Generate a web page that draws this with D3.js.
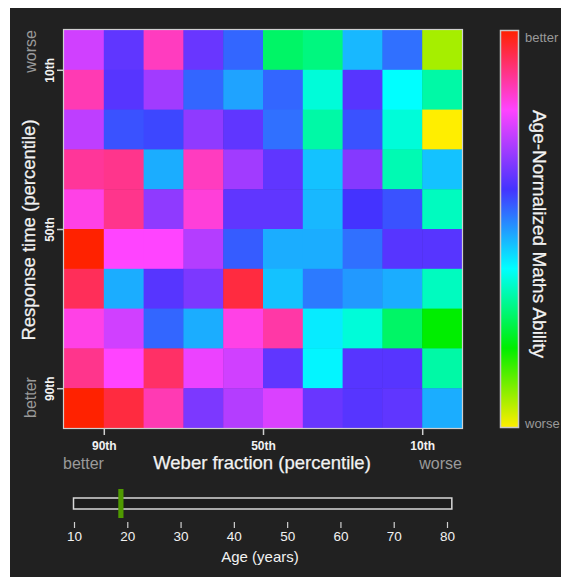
<!DOCTYPE html>
<html>
<head>
<meta charset="utf-8">
<script src="https://cdn.jsdelivr.net/npm/d3@7"></script>
<style>
  html, body { margin: 0; padding: 0; background: #ffffff; }
  svg { display: block; font-family: "Liberation Sans", Arial, sans-serif; }
</style>
</head>
<body>
<svg id="chart" width="561" height="577"></svg>
<script>
// Heatmap: age-normalised maths ability by Weber fraction and response time deciles

// Percentile bin edges (columns: Weber fraction, rows: response time)
const weberEdges = [100, 90, 80, 70, 60, 50, 40, 30, 20, 10, 0];
const rtEdges = [0, 10, 20, 30, 40, 50, 60, 70, 80, 90, 100];

// Tick labels
const weberTicks = [90, 50, 10];
const rtTicks = [10, 50, 90];
const ageTicks = [10, 20, 30, 40, 50, 60, 70, 80];

// Age slider
const ageExtent = [10, 81];
const currentAge = 18.8;

// Ability score (0 = worse, 1 = better), one row per response-time decile (top to bottom)
const ability = [
    [0.75, 0.63, 0.85, 0.64, 0.55, 0.28, 0.30, 0.47, 0.54, 0.07],
    [0.86, 0.62, 0.70, 0.55, 0.49, 0.55, 0.37, 0.62, 0.40, 0.33],
    [0.73, 0.57, 0.58, 0.68, 0.63, 0.54, 0.33, 0.57, 0.37, 0.00],
    [0.88, 0.89, 0.48, 0.85, 0.70, 0.63, 0.46, 0.67, 0.34, 0.46],
    [0.82, 0.89, 0.68, 0.83, 0.63, 0.63, 0.47, 0.60, 0.57, 0.35],
    [1.00, 0.80, 0.80, 0.72, 0.56, 0.48, 0.48, 0.54, 0.62, 0.62],
    [0.93, 0.48, 0.62, 0.66, 0.95, 0.46, 0.53, 0.50, 0.48, 0.35],
    [0.82, 0.75, 0.55, 0.48, 0.82, 0.87, 0.42, 0.37, 0.28, 0.20],
    [0.89, 0.80, 0.92, 0.78, 0.75, 0.63, 0.41, 0.62, 0.62, 0.33],
    [1.00, 0.95, 0.86, 0.66, 0.72, 0.76, 0.64, 0.62, 0.63, 0.48]
];

// Colour map stops (worse -> better)
const colourStops = [0, 0.2, 0.4, 0.6, 0.8, 1];
const colourRange = ["#ffee00", "#00ee00", "#00ffff", "#4433ff", "#ff44ff", "#ff2200"];

const svg = d3.select("#chart");

const x = d3.scaleLinear().domain([100, 0]).range([64, 462]);
const y = d3.scaleLinear().domain([0, 100]).range([30, 428]);
const color = d3.scaleLinear().domain(colourStops).range(colourRange).interpolate(d3.interpolateRgb);
const ageScale = d3.scaleLinear().domain([10, 80]).range([74, 447]);

// dark panel
svg.append("rect")
    .attr("x", 10).attr("y", 8)
    .attr("width", 551).attr("height", 569)
    .attr("fill", "#212121");

// Cells
const cells = [];
ability.forEach((row, r) => row.forEach((v, c) => cells.push({ r, c, v })));

svg.append("g")
    .selectAll("rect")
    .data(cells)
    .join("rect")
    .attr("x", d => x(weberEdges[d.c]))
    .attr("y", d => y(rtEdges[d.r]))
    .attr("width", d => x(weberEdges[d.c + 1]) - x(weberEdges[d.c]) + 0.5)
    .attr("height", d => y(rtEdges[d.r + 1]) - y(rtEdges[d.r]) + 0.5)
    .attr("fill", d => color(d.v));

svg.append("rect")
    .attr("x", 63.5).attr("y", 29.5)
    .attr("width", 399).attr("height", 399)
    .attr("fill", "none")
    .attr("stroke", "#cfcfcf")
    .attr("stroke-width", 1.2);

// Axes
const tickColour = "#d0d0d0";
const labelColour = "#f2f2f2";
const hintColour = "#9a9a9a";

const xAxis = svg.append("g").attr("transform", "translate(0,429)")
    .call(d3.axisBottom(x).tickValues(weberTicks).tickSize(6).tickFormat(d => d + "th"));
xAxis.select(".domain").remove();
xAxis.selectAll("line").attr("stroke", tickColour).attr("stroke-width", 1.5);
xAxis.selectAll("text")
    .attr("fill", labelColour)
    .attr("dy", null).attr("y", 21)
    .style("font-size", "12px").style("font-weight", "bold")
    .style("font-family", "'Liberation Sans', Arial, sans-serif");

const yAxis = svg.append("g").attr("transform", "translate(63,0)")
    .call(d3.axisLeft(y).tickValues(rtTicks).tickSize(6).tickFormat(d => d + "th"));
yAxis.select(".domain").remove();
yAxis.selectAll("line").attr("stroke", tickColour).attr("stroke-width", 1.5);
yAxis.selectAll("text")
    .attr("fill", labelColour)
    .attr("x", null).attr("dy", null)
    .attr("text-anchor", "middle")
    .attr("transform", "translate(-9,0) rotate(-90)")
    .style("font-size", "12px").style("font-weight", "bold")
    .style("font-family", "'Liberation Sans', Arial, sans-serif");

// Axis titles
svg.append("text")
    .attr("x", 262).attr("y", 469)
    .attr("text-anchor", "middle")
    .attr("fill", labelColour)
    .attr("stroke", labelColour).attr("stroke-width", 0.25)
    .style("font-size", "18.5px")
    .text("Weber fraction (percentile)");

svg.append("text")
    .attr("x", 63).attr("y", 469)
    .attr("fill", hintColour)
    .style("font-size", "16px")
    .text("better");

svg.append("text")
    .attr("x", 462).attr("y", 469)
    .attr("text-anchor", "end")
    .attr("fill", hintColour)
    .style("font-size", "16px")
    .text("worse");

svg.append("text")
    .attr("transform", "translate(35,230) rotate(-90)")
    .attr("text-anchor", "middle")
    .attr("fill", labelColour)
    .attr("stroke", labelColour).attr("stroke-width", 0.25)
    .style("font-size", "18.5px")
    .text("Response time (percentile)");

svg.append("text")
    .attr("transform", "translate(36,30) rotate(-90)")
    .attr("text-anchor", "end")
    .attr("fill", hintColour)
    .style("font-size", "16px")
    .text("worse");

svg.append("text")
    .attr("transform", "translate(36,418) rotate(-90)")
    .attr("fill", hintColour)
    .style("font-size", "16px")
    .text("better");

// Colour bar
const defs = svg.append("defs");
const grad = defs.append("linearGradient")
    .attr("id", "cbar")
    .attr("x1", "0%").attr("y1", "100%")
    .attr("x2", "0%").attr("y2", "0%");

grad.selectAll("stop")
    .data(d3.range(0, 1.001, 0.05))
    .join("stop")
    .attr("offset", d => `${d * 100}%`)
    .attr("stop-color", d => color(d));

svg.append("rect")
    .attr("x", 500.5).attr("y", 30.5)
    .attr("width", 18).attr("height", 397)
    .attr("fill", "url(#cbar)")
    .attr("stroke", "#c8c8c8")
    .attr("stroke-width", 1.5);

svg.append("text")
    .attr("x", 525).attr("y", 42)
    .attr("fill", hintColour)
    .style("font-size", "13px")
    .text("better");

svg.append("text")
    .attr("x", 525).attr("y", 428)
    .attr("fill", hintColour)
    .style("font-size", "13px")
    .text("worse");

svg.append("text")
    .attr("transform", "translate(533,234) rotate(90)")
    .attr("text-anchor", "middle")
    .attr("fill", labelColour)
    .attr("stroke", labelColour).attr("stroke-width", 0.25)
    .style("font-size", "19px")
    .text("Age-Normalized Maths Ability");

// Age slider
svg.append("rect")
    .attr("x", ageScale(ageExtent[0]) - 0.5).attr("y", 498)
    .attr("width", ageScale(ageExtent[1]) - ageScale(ageExtent[0]))
    .attr("height", 11)
    .attr("fill", "#1c1c1c")
    .attr("stroke", "#d8d8d8")
    .attr("stroke-width", 1.5);

svg.append("rect")
    .attr("x", ageScale(currentAge) - 2.6).attr("y", 489)
    .attr("width", 5.2).attr("height", 29)
    .attr("fill", "#4f9a00");

const ageAxis = svg.append("g").attr("transform", "translate(0,522)")
    .call(d3.axisBottom(ageScale).tickValues(ageTicks).tickSize(6).tickFormat(d3.format("d")));
ageAxis.select(".domain").remove();
ageAxis.selectAll("line").attr("stroke", tickColour).attr("stroke-width", 1.2);
ageAxis.selectAll("text")
    .attr("fill", labelColour)
    .attr("dy", null).attr("y", 19)
    .style("font-size", "13.5px")
    .style("font-family", "'Liberation Sans', Arial, sans-serif");

svg.append("text")
    .attr("x", 260).attr("y", 562)
    .attr("text-anchor", "middle")
    .attr("fill", labelColour)
    .style("font-size", "15px")
    .text("Age (years)");
</script>
</body>
</html>
